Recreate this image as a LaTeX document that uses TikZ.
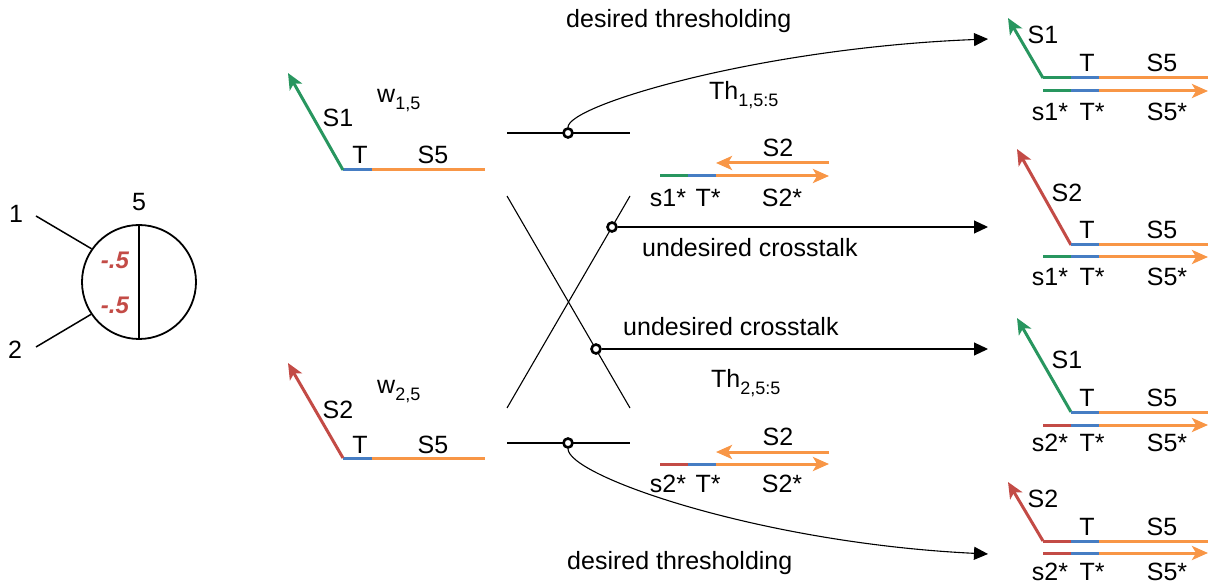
\documentclass[tikz,border=0pt]{standalone}
\usepackage{fontspec}
\setmainfont{Liberation Sans}
\usetikzlibrary{arrows.meta}
\definecolor{dgreen}{RGB}{40,150,95}
\definecolor{dblue}{RGB}{70,125,195}
\definecolor{dorange}{RGB}{248,150,70}
\definecolor{dred}{RGB}{195,75,70}
% lowered, smaller index text
\newcommand{\sbs}[1]{\raisebox{-7pt}{\fontsize{18}{18}\selectfont #1}}

\begin{document}
\begin{tikzpicture}[x=1pt,y=-1pt,
  lbl/.style={inner sep=0pt, font=\fontsize{25}{25}\selectfont},
  wlbl/.style={inner sep=0pt, text=dred, font=\fontsize{24}{24}\selectfont\bfseries\itshape},
  strand/.style={line width=3pt},
  head/.style={-{Stealth[length=16pt,width=14pt,inset=4pt]}},
  wire/.style={line width=1.1pt},
  flow/.style={wire,-{Triangle[length=14pt,width=13pt]}},
  gatept/.style={circle,draw,line width=2.6pt,fill=white,minimum size=9pt,inner sep=0pt},
]
\useasboundingbox (0,0) rectangle (1208,585);

% ---------------- neuron with two weighted inputs ----------------
\node[circle,draw,line width=1.8pt,minimum size=114pt,inner sep=0pt] (nrn) at (139,282) {};
\draw[line width=1.8pt] (nrn.north) -- (nrn.south);
\coordinate (in1) at (36,216);
\coordinate (in2) at (36,347);
\draw[line width=1.5pt] (in1) -- (nrn.145.5);
\draw[line width=1.5pt] (in2) -- (nrn.214);
\node[lbl] (lin1) at (16,214) {1};
\node[lbl] (lin2) at (15,350) {2};
\node[lbl] (lout) at (139,202) {5};
\node[wlbl] (wa) at (115,260) {-.5};
\node[wlbl] (wb) at (115,305) {-.5};

% ---------------- weight complexes ----------------
\draw[strand,dblue] (343,170) -- (372,170);
\draw[strand,dorange] (372,170) -- (485,170);
\draw[strand,dgreen,head] (343,170) -- (288,73);
\node[lbl] (w1s1) at (338,118) {S1};
\node[lbl] (w1t) at (360,155) {T};
\node[lbl] (w1s5) at (433,155) {S5};
\node[lbl,anchor=base west] (w1n) at (377,103) {w\sbs{1,5}};

\draw[strand,dblue] (343,458) -- (372,458);
\draw[strand,dorange] (372,458) -- (485,458);
\draw[strand,dred,head] (343,458) -- (288,363);
\node[lbl] (w2s2) at (338,410) {S2};
\node[lbl] (w2t) at (360,445) {T};
\node[lbl] (w2s5) at (433,445) {S5};
\node[lbl,anchor=base west] (w2n) at (377,393) {w\sbs{2,5}};

% ---------------- reaction wiring ----------------
\draw[wire] (507,133) -- (630,133);
\draw[wire] (507,196) -- (630,408);
\draw[wire] (630,196) -- (507,408);
\draw[wire] (507,443) -- (630,443);

\node[gatept] (g1) at (568,133) {};
\node[gatept] (g2) at (612,227) {};
\node[gatept] (g3) at (596,349) {};
\node[gatept] (g4) at (568,443) {};

\coordinate (t1) at (988,39);
\coordinate (t2) at (988,227);
\coordinate (t3) at (988,349);
\coordinate (t4) at (988,554);

\draw[flow] (g1.north) .. controls (568,105) and (760,48) .. (t1);
\draw[flow] (g2.east) -- (t2);
\draw[flow] (g3.east) -- (t3);
\draw[flow] (g4.south) .. controls (568,476) and (760,543) .. (t4);

\node[lbl,anchor=base west] (dt1) at (566,28) {desired thresholding};
\node[lbl,anchor=base west] (dt2) at (567,569) {desired thresholding};
\node[lbl,anchor=base west] (uc1) at (642,257) {undesired crosstalk};
\node[lbl,anchor=base west] (uc2) at (623,336) {undesired crosstalk};
\node[lbl,anchor=base west] (th1) at (709,100) {Th\sbs{1,5:5}};
\node[lbl,anchor=base west] (th2) at (711,388) {Th\sbs{2,5:5}};

% ---------------- threshold complexes ----------------
\draw[strand,dgreen] (660,176) -- (688,176);
\draw[strand,dblue] (688,176) -- (716,176);
\draw[strand,dorange,head] (716,176) -- (829,176);
\draw[strand,dorange,head] (829,163) -- (716,163);
\node[lbl] (a1) at (778,148) {S2};
\node[lbl] (a2) at (668,198) {s1*};
\node[lbl] (a3) at (708,198) {T*};
\node[lbl] (a4) at (782,198) {S2*};

\draw[strand,dred] (660,464) -- (688,464);
\draw[strand,dblue] (688,464) -- (716,464);
\draw[strand,dorange,head] (716,464) -- (829,464);
\draw[strand,dorange,head] (829,452) -- (716,452);
\node[lbl] (b1) at (778,437) {S2};
\node[lbl] (b2) at (668,484) {s2*};
\node[lbl] (b3) at (708,484) {T*};
\node[lbl] (b4) at (782,484) {S2*};

% ---------------- products ----------------
% product 1
\draw[strand,dgreen,head] (1043,78) -- (1008,18);
\draw[strand,dgreen] (1043,78) -- (1071,78);
\draw[strand,dblue] (1071,78) -- (1099,78);
\draw[strand,dorange] (1099,78) -- (1208,78);
\draw[strand,dgreen] (1043,91) -- (1071,91);
\draw[strand,dblue] (1071,91) -- (1099,91);
\draw[strand,dorange,head] (1099,91) -- (1208,91);
\node[lbl] (p1a) at (1043,35) {S1};
\node[lbl] (p1b) at (1087,63) {T};
\node[lbl] (p1c) at (1162,63) {S5};
\node[lbl] (p1d) at (1050,112) {s1*};
\node[lbl] (p1e) at (1092,112) {T*};
\node[lbl] (p1f) at (1167,112) {S5*};

% product 2
\draw[strand,dred,head] (1071,245) -- (1017,149);
\draw[strand,dblue] (1071,245) -- (1099,245);
\draw[strand,dorange] (1099,245) -- (1208,245);
\draw[strand,dgreen] (1043,257) -- (1071,257);
\draw[strand,dblue] (1071,257) -- (1099,257);
\draw[strand,dorange,head] (1099,257) -- (1208,257);
\node[lbl] (p2a) at (1067,193) {S2};
\node[lbl] (p2b) at (1087,230) {T};
\node[lbl] (p2c) at (1162,230) {S5};
\node[lbl] (p2d) at (1050,277) {s1*};
\node[lbl] (p2e) at (1092,277) {T*};
\node[lbl] (p2f) at (1167,277) {S5*};

% product 3
\draw[strand,dgreen,head] (1071,412) -- (1017,318);
\draw[strand,dblue] (1071,412) -- (1099,412);
\draw[strand,dorange] (1099,412) -- (1208,412);
\draw[strand,dred] (1043,425) -- (1071,425);
\draw[strand,dblue] (1071,425) -- (1099,425);
\draw[strand,dorange,head] (1099,425) -- (1208,425);
\node[lbl] (p3a) at (1067,360) {S1};
\node[lbl] (p3b) at (1087,398) {T};
\node[lbl] (p3c) at (1162,398) {S5};
\node[lbl] (p3d) at (1050,443) {s2*};
\node[lbl] (p3e) at (1092,443) {T*};
\node[lbl] (p3f) at (1167,443) {S5*};

% product 4
\draw[strand,dred,head] (1043,541) -- (1008,482);
\draw[strand,dred] (1043,541) -- (1071,541);
\draw[strand,dblue] (1071,541) -- (1099,541);
\draw[strand,dorange] (1099,541) -- (1208,541);
\draw[strand,dred] (1043,553) -- (1071,553);
\draw[strand,dblue] (1071,553) -- (1099,553);
\draw[strand,dorange,head] (1099,553) -- (1208,553);
\node[lbl] (p4a) at (1043,499) {S2};
\node[lbl] (p4b) at (1087,527) {T};
\node[lbl] (p4c) at (1162,527) {S5};
\node[lbl] (p4d) at (1050,572) {s2*};
\node[lbl] (p4e) at (1092,572) {T*};
\node[lbl] (p4f) at (1167,572) {S5*};
\end{tikzpicture}
\end{document}
